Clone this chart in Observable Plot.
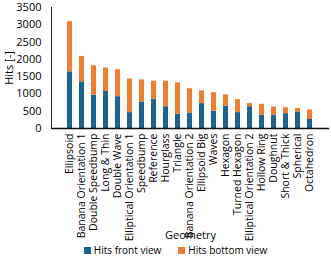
<!DOCTYPE html>
<html>
<head>
<meta charset="utf-8">
<script src="https://cdn.jsdelivr.net/npm/d3@7"></script>
<script src="https://cdn.jsdelivr.net/npm/@observablehq/plot@0.6"></script>
<style>
body { margin: 0; background: #fff; font-family: "Open Sans", "DejaVu Sans", sans-serif; }
#legend { display: flex; justify-content: center; gap: 17px; font-size: 10px; color: #000; height: 15px; align-items: center; margin-left: 20px; }
#legend span.sw { display: inline-block; width: 7px; height: 7px; margin-right: 3px; }
</style>
</head>
<body>
<div id="chart"></div>
<div id="legend"></div>
<script>
const geometries = ["Ellipsoid", "Banana Orientation 1", "Double Speedbump", "Long & Thin", "Double Wave",
  "Elliptical Orientation 1", "Speedbump", "Reference", "Hourglass", "Triangle", "Banana Orientation 2",
  "Ellipsoid Big", "Waves", "Hexagon", "Turned Hexagon", "Elliptical Orientation 2", "Hollow Ring",
  "Doughnut", "Short & Thick", "Spherical", "Octahedron"];
const frontView = [1640, 1350, 960, 1070, 920, 460, 770, 850, 630, 410, 450, 720, 500, 650, 460, 630, 390, 390, 430, 480, 260];
const totalHits = [3090, 2085, 1815, 1750, 1700, 1435, 1405, 1370, 1370, 1320, 1150, 1090, 1035, 975, 835, 720, 700, 620, 600, 575, 535];
const bottomView = totalHits.map((t, i) => t - frontView[i]);
const seriesNames = ["Hits front view", "Hits bottom view"];
const seriesColors = ["#1c6390", "#ed7d31"];
const yTicks = [0, 500, 1000, 1500, 2000, 2500, 3000, 3500];

const rows = [];
geometries.forEach((g, i) => {
  rows.push({geometry: g, series: seriesNames[0], value: frontView[i]});
  rows.push({geometry: g, series: seriesNames[1], value: bottomView[i]});
});

const chart = Plot.plot({
  width: 331,
  height: 242,
  marginLeft: 51,
  marginRight: 2,
  marginTop: 7,
  marginBottom: 114,
  style: {fontFamily: "'Open Sans', 'DejaVu Sans', sans-serif", fontSize: "10.5px", color: "#000"},
  x: {domain: geometries, padding: 0.55, axis: null},
  y: {domain: [0, 3500]},
  color: {domain: seriesNames, range: seriesColors},
  marks: [
    Plot.barY(rows, Plot.stackY({x: "geometry", y: "value", fill: "series", order: seriesNames})),
    Plot.axisY({ticks: yTicks, tickFormat: d => String(d), tickSize: 0, tickPadding: 10, label: "Hits [-]", labelAnchor: "center", labelArrow: "none", labelOffset: 46, fontSize: 11}),
    Plot.text(geometries, {x: d => d, frameAnchor: "bottom", rotate: -90, textAnchor: "end", lineAnchor: "middle", dy: 5, fontSize: 10.5, fill: "#000"}),
    Plot.text(["Geometry"], {frameAnchor: "bottom", dy: 110, fontSize: 11, fill: "#000"}),
    Plot.frame({anchor: "left", stroke: "#222"}),
    Plot.ruleY([0], {stroke: "#111", strokeWidth: 1.5})
  ]
});
document.getElementById("chart").appendChild(chart);

const legend = document.getElementById("legend");
seriesNames.forEach((name, i) => {
  const item = document.createElement("div");
  item.innerHTML = `<span class="sw" style="background:${seriesColors[i]}"></span>${name}`;
  legend.appendChild(item);
});
</script>
</body>
</html>
